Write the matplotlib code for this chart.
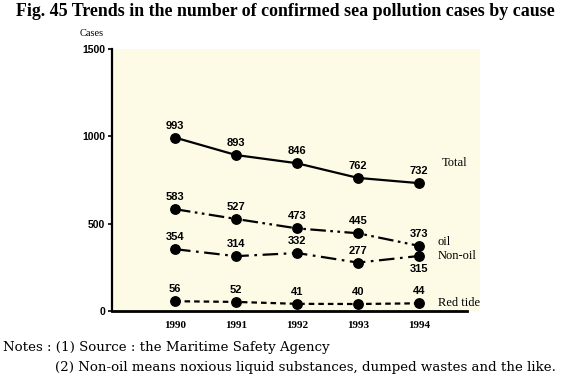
import matplotlib
matplotlib.use("Agg")
import matplotlib.pyplot as plt

years = [1990, 1991, 1992, 1993, 1994]
year_labels = ["1990", "1991", "1992", "1993", "1994"]
total = [993, 893, 846, 762, 732]
oil = [583, 527, 473, 445, 373]
non_oil = [354, 314, 332, 277, 315]
red_tide = [56, 52, 41, 40, 44]
series_names = ["Total", "oil", "Non-oil", "Red tide"]
y_ticks = [0, 500, 1000, 1500]

W, H = 567, 380
fig = plt.figure(figsize=(W / 100, H / 100), dpi=100)
fig.patch.set_facecolor("white")

left, right, top, bottom = 112, 480, 49, 311
ax = fig.add_axes([left / W, 1 - bottom / H, (right - left) / W, (bottom - top) / H])
ax.set_facecolor("#fdfbe6")
ax.set_xlim(1988.967, 1995.0)
ax.set_ylim(0, 1500)

for s in ["top", "right", "bottom"]:
    ax.spines[s].set_visible(False)
ax.spines["left"].set_linewidth(1.6)
ax.axhline(0, xmin=0, xmax=(467 - left) / (right - left), color="black", lw=2.0, clip_on=False)

ax.set_yticks(y_ticks)
ax.set_yticklabels([str(v) for v in y_ticks], fontfamily="Liberation Sans", fontweight="bold", fontsize=7.5)
ax.tick_params(axis="y", length=3, width=1.2, direction="out", pad=2)
ax.set_xticks(years)
ax.set_xticklabels(year_labels, fontfamily="Liberation Serif", fontweight="bold", fontsize=8)
ax.tick_params(axis="x", length=0, pad=7)

styles = [
    (total, "-"),
    (oil, (0, (7, 2, 1.2, 2, 1.2, 2))),
    (non_oil, (0, (7, 2.5, 1.2, 2.5))),
    (red_tide, (0, (2.5, 1.8))),
]
for vals, ls in styles:
    ax.plot(years, vals, color="black", lw=1.6, linestyle=ls, marker="o",
            markersize=6.8, markerfacecolor="black", markeredgecolor="black", clip_on=False)

numfont = dict(fontfamily="Liberation Sans", fontweight="bold", fontsize=8, ha="center")
for vals in [total, oil, red_tide]:
    for x, v in zip(years, vals):
        ax.annotate(str(v), (x, v), xytext=(0, 5), textcoords="offset points", va="bottom", **numfont)
for i, (x, v) in enumerate(zip(years, non_oil)):
    if i == len(years) - 1:
        ax.annotate(str(v), (x, v), xytext=(0, -6), textcoords="offset points", va="top", **numfont)
    else:
        ax.annotate(str(v), (x, v), xytext=(0, 5), textcoords="offset points", va="bottom", **numfont)

serif = "Liberation Serif"
lab_pos = [(442, 163), (438, 242), (438, 256), (438, 303)]
for name, (px, py) in zip(series_names, lab_pos):
    fig.text(px / W, 1 - py / H, name, fontfamily=serif, fontsize=9, ha="left", va="center")

fig.text(285 / W, 1 - 11 / H, "Fig. 45 Trends in the number of confirmed sea pollution cases by cause",
         fontfamily=serif, fontweight="bold", fontsize=12.9, ha="center", va="center")
fig.text(92 / W, 1 - 33 / H, "Cases", fontfamily=serif, fontsize=7.5, ha="center", va="center")
fig.text(3 / W, 1 - 348 / H, "Notes : (1) Source : the Maritime Safety Agency",
         fontfamily="DejaVu Serif", fontsize=9.6, ha="left", va="center")
fig.text(55 / W, 1 - 368 / H, "(2) Non-oil means noxious liquid substances, dumped wastes and the like.",
         fontfamily="DejaVu Serif", fontsize=9.6, ha="left", va="center")

fig.savefig("out.png", dpi=100)
